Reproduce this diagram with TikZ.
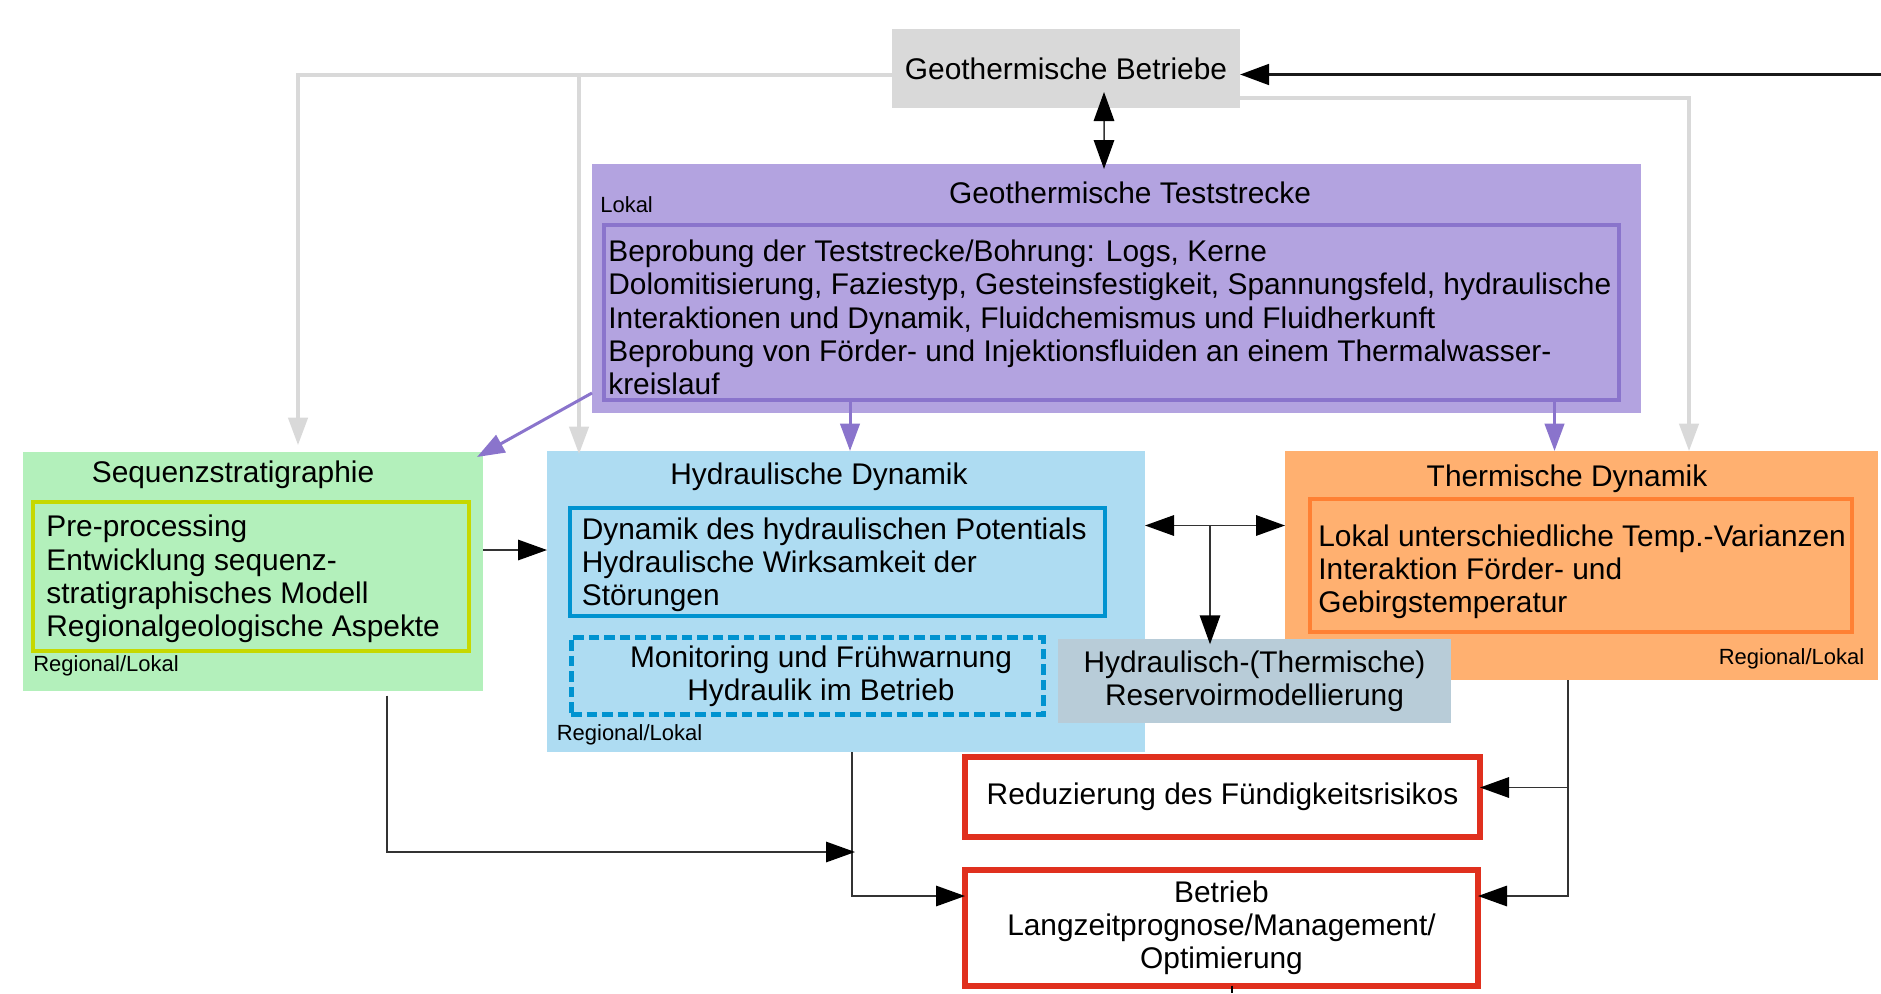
\documentclass[tikz,border=0pt]{standalone}
\usepackage{fontspec}
\setmainfont{Liberation Sans}
\usetikzlibrary{positioning}
\usetikzlibrary{arrows.meta}

\definecolor{grau}{HTML}{D9D9D9}
\definecolor{lila}{HTML}{B3A3E0}
\definecolor{lilarand}{HTML}{8A74CC}
\definecolor{gruen}{HTML}{B3F0BB}
\definecolor{gruenrand}{HTML}{C6D800}
\definecolor{hellblau}{HTML}{AEDCF2}
\definecolor{blaurand}{HTML}{0093D0}
\definecolor{blaugrau}{HTML}{B8CCD8}
\definecolor{hellorange}{HTML}{FFB070}
\definecolor{orangerand}{HTML}{FF8033}
\definecolor{rot}{HTML}{E0301E}
\definecolor{linie}{HTML}{333333}

\tikzset{
feld/.style={draw=none, inner sep=0, outer sep=0},
rahmen/.style={line width=0.065cm, inner sep=0, outer sep=0},
txt/.style={inner sep=0, align=left},
klein/.style={inner sep=0, font=\fontsize{12.5}{14}\selectfont},
spitze/.style={-{Triangle[length=0.58cm,width=0.41cm,color=black]}},
pfeil/.style={draw=linie, line width=0.03cm, spitze},
doppelpfeil/.style={draw=linie, line width=0.03cm, {Triangle[length=0.58cm,width=0.41cm,color=black]}-{Triangle[length=0.58cm,width=0.41cm,color=black]}},
dickpfeil/.style={draw=black!90, line width=0.065cm, spitze},
grauerpfeil/.style={draw=grau, line width=0.065cm, -{Triangle[length=0.55cm,width=0.39cm]}},
lilapfeil/.style={draw=lilarand, line width=0.06cm, -{Triangle[length=0.55cm,width=0.39cm]}}
}

\begin{document}
\begin{tikzpicture}[font=\fontsize{17}{18.9}\selectfont]

\useasboundingbox (0,0) rectangle (37.62,-19.86);

% Betriebe und Teststrecke
\node[feld, fill=grau, minimum width=6.96cm, minimum height=1.58cm] (betriebe) at (21.32,-1.37) {Geothermische Betriebe};

\node[feld, fill=lila, minimum width=20.98cm, minimum height=4.98cm] (teststrecke) at (22.33,-5.77) {};
\node[rahmen, draw=lilarand, minimum width=20.3cm, minimum height=3.5cm] (probe) at (22.23,-6.25) {};
\node[txt] (testtitel) at (22.6,-3.86) {Geothermische Teststrecke};
\node[klein, anchor=west] (testlokal) at (12.0,-4.1) {Lokal};
\node[txt, anchor=west] (probetxt) at (12.16,-6.35) {Beprobung der Teststrecke/Bohrung: Logs, Kerne\\Dolomitisierung, Faziestyp, Gesteinsfestigkeit, Spannungsfeld, hydraulische\\Interaktionen und Dynamik, Fluidchemismus und Fluidherkunft\\Beprobung von Förder- und Injektionsfluiden an einem Thermalwasser-\\kreislauf};

% Sequenzstratigraphie
\node[feld, fill=gruen, minimum width=9.2cm, minimum height=4.78cm] (sequenz) at (5.06,-11.43) {};
\node[rahmen, draw=gruenrand, line width=0.07cm, minimum width=8.72cm, minimum height=2.98cm] (seqinnen) at (5.02,-11.53) {};
\node[txt] (seqtitel) at (4.66,-9.49) {Sequenzstratigraphie};
\node[txt, anchor=west] (seqtxt) at (0.92,-11.58) {Pre-processing\\Entwicklung sequenz-\\stratigraphisches Modell\\Regionalgeologische Aspekte};
\node[klein, anchor=west] (seqregion) at (0.66,-13.31) {Regional/Lokal};

% Hydraulische Dynamik
\node[feld, fill=hellblau, minimum width=11.96cm, minimum height=6.02cm] (hydr) at (16.92,-12.03) {};
\node[rahmen, draw=blaurand, line width=0.085cm, minimum width=10.7cm, minimum height=2.17cm] (hydrinnen) at (16.75,-11.24) {};
\node[txt, anchor=west] (hydrtxt) at (11.63,-11.29) {Dynamik des hydraulischen Potentials\\Hydraulische Wirksamkeit der\\Störungen};
\node[rahmen, draw=blaurand, line width=0.1cm, dash pattern=on 0.21cm off 0.1cm, minimum width=9.44cm, minimum height=1.53cm] (monitoring) at (16.14,-13.52) {};
\node[txt, align=center] (monitortxt) at (16.42,-13.52) {Monitoring und Frühwarnung\\Hydraulik im Betrieb};
\node[txt] (hydrtitel) at (16.38,-9.53) {Hydraulische Dynamik};
\node[klein, anchor=west] (hydrregion) at (11.13,-14.7) {Regional/Lokal};

% Thermische Dynamik
\node[feld, fill=hellorange, minimum width=11.86cm, minimum height=4.58cm] (thermisch) at (31.63,-11.31) {};
\node[rahmen, draw=orangerand, line width=0.07cm, minimum width=10.84cm, minimum height=2.66cm] (thermoinnen) at (31.62,-11.31) {};
\node[txt] (thermotitel) at (31.34,-9.58) {Thermische Dynamik};
\node[txt, anchor=west] (thermotxt) at (26.36,-11.44) {Lokal unterschiedliche Temp.-Varianzen\\Interaktion Förder- und\\Gebirgstemperatur};
\node[klein, anchor=east] (thermoregion) at (37.29,-13.17) {Regional/Lokal};

\node[feld, fill=blaugrau, minimum width=7.86cm, minimum height=1.69cm, align=center] (reservoir) at (25.09,-13.62) {Hydraulisch-(Thermische)\\Reservoirmodellierung};

% Ergebnisse
\node[rahmen, draw=rot, fill=white, line width=0.12cm, minimum width=10.3cm, minimum height=1.6cm] (risiko) at (24.45,-15.93) {Reduzierung des Fündigkeitsrisikos};
\node[rahmen, draw=rot, fill=white, line width=0.12cm, minimum width=10.26cm, minimum height=2.32cm, align=center] (betrieb) at (24.43,-18.55) {Betrieb\\Langzeitprognose/Management/\\Optimierung};

% graue Verbindungen
\coordinate (gl) at ([yshift=-0.13cm]betriebe.west);
\coordinate (g2) at ([xshift=-5.34cm,yshift=-0.06cm]hydr.north);
\draw[grauerpfeil] (gl) -| ([xshift=0.9cm,yshift=0.14cm]sequenz.north);
\draw[grauerpfeil] (gl -| g2) -- (g2);
\draw[grauerpfeil] ([yshift=-0.59cm]betriebe.east) -| ([xshift=2.15cm]thermisch.north);

\coordinate (zufluss) at (37.62,-1.49);
\draw[dickpfeil] (zufluss) -- (zufluss -| betriebe.east);
\draw[doppelpfeil] ([xshift=0.76cm,yshift=0.32cm]betriebe.south) -- ([xshift=-0.25cm,yshift=-0.1cm]teststrecke.north);

% lila Pfeile
\coordinate (p1) at ([xshift=-5.23cm]probe.south);
\coordinate (p2) at ([xshift=8.86cm]probe.south);
\draw[lilapfeil] ([yshift=0.4cm]teststrecke.south west) -- ([xshift=-0.12cm,yshift=-0.1cm]sequenz.north east);
\draw[lilapfeil] (p1) -- (p1 |- hydr.north);
\draw[lilapfeil] (p2) -- (p2 |- thermisch.north);

% schwarze Verbindungen
\coordinate (s1) at ([yshift=0.43cm]sequenz.east);
\draw[pfeil] (s1) -- (s1 -| hydr.west);

\coordinate (h1) at ([yshift=1.52cm]hydr.east);
\coordinate (h2) at ([xshift=-0.89cm,yshift=-0.11cm]reservoir.north);
\draw[doppelpfeil] (h1) -- (h1 -| thermisch.west);
\draw[pfeil] (h1 -| h2) -- (h2);

\coordinate (t1) at ([xshift=-0.27cm]thermisch.south);
\coordinate (r1) at ([yshift=0.18cm]risiko.east);
\draw[pfeil] (t1) |- ([yshift=0.63cm]betrieb.east);
\draw[pfeil] (t1 |- r1) -- (r1);

\coordinate (hv) at ([xshift=0.12cm]hydr.south);
\coordinate (sv) at ([xshift=2.68cm,yshift=-0.09cm]sequenz.south);
\draw[pfeil] (hv) |- ([yshift=0.63cm]betrieb.west);
\draw[pfeil] (sv) |- ([xshift=0.06cm,yshift=-2cm]hv);

\coordinate (abfluss) at (24.64,-19.86);
\draw[black, line width=0.05cm] (betrieb.south -| abfluss) -- (abfluss);

\end{tikzpicture}
\end{document}
